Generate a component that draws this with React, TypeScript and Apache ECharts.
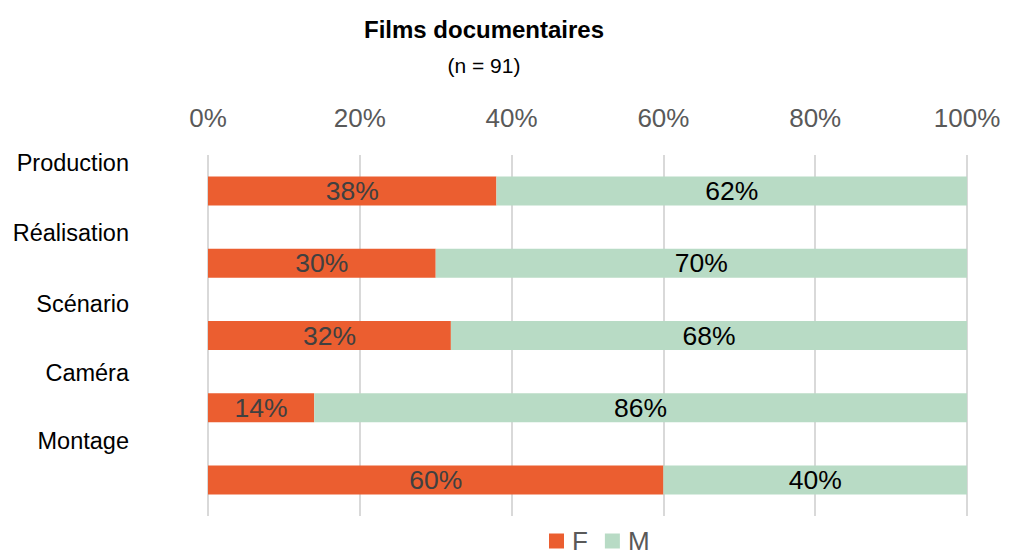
import React, { useEffect, useRef } from "react";
import * as echarts from "echarts";

const categories = ["Production", "Réalisation", "Scénario", "Caméra", "Montage"];
const valuesF = [38, 30, 32, 14, 60];
const valuesM = [62, 70, 68, 86, 40];
const xTicks = [0, 20, 40, 60, 80, 100];

const FONT = "'Liberation Sans', Arial, sans-serif";
// vertical gap under each category label (label sits above its bar)
const labelGaps = [56, 60, 64, 70, 78];

export default function App() {
  const ref = useRef<HTMLDivElement>(null);
  useEffect(() => {
    document.body.style.margin = "0";
    const chart = echarts.init(ref.current!, null, { renderer: "svg" });
    const rich: Record<string, any> = {
      t: { fontSize: 23.5, lineHeight: 28, color: "#000", fontFamily: FONT, align: "right" },
    };
    labelGaps.forEach((g, i) => {
      rich["p" + i] = { fontSize: 10, lineHeight: g, align: "right" };
    });
    chart.setOption({
      animation: false,
      textStyle: { fontFamily: FONT },
      title: {
        text: "Films documentaires",
        subtext: "(n = 91)",
        left: 479,
        textAlign: "center",
        top: 12,
        itemGap: 14,
        textStyle: { fontSize: 24, fontWeight: "bold", color: "#000", fontFamily: FONT },
        subtextStyle: { fontSize: 21, color: "#000", fontFamily: FONT },
      },
      legend: {
        data: ["F", "M"],
        left: 544,
        top: 523,
        itemWidth: 15,
        itemHeight: 15,
        itemGap: 17,
        icon: "rect",
        textStyle: { fontSize: 26, color: "#595959", fontFamily: FONT, padding: [0, 0, 0, 3] },
      },
      grid: { left: 208, right: 42, top: 155, bottom: 36, containLabel: false },
      xAxis: {
        type: "value",
        position: "top",
        min: xTicks[0],
        max: xTicks[xTicks.length - 1],
        interval: 20,
        axisLine: { show: false },
        axisTick: { show: false },
        axisLabel: {
          formatter: "{value}%",
          fontSize: 26,
          color: "#595959",
          margin: 24,
          fontFamily: FONT,
        },
        splitLine: { show: true, lineStyle: { color: "#D9D9D9", width: 2 } },
      },
      yAxis: {
        type: "category",
        inverse: true,
        data: categories,
        axisLine: { show: false },
        axisTick: { show: false },
        axisLabel: {
          interval: 0,
          showMinLabel: true,
          showMaxLabel: true,
          hideOverlap: false,
          color: "#000",
          margin: 79,
          align: "right",
          verticalAlign: "middle",
          formatter: (v: string, i: number) => `{t|${v}}\n{p${i}| }`,
          rich,
          fontFamily: FONT,
        },
      },
      series: [
        {
          name: "F",
          type: "bar",
          stack: "total",
          data: valuesF,
          barWidth: 29,
          itemStyle: { color: "#EB5E30" },
          label: {
            show: true,
            position: "inside",
            formatter: "{c}%",
            fontSize: 26.5,
            color: "#404040",
            fontFamily: FONT,
          },
        },
        {
          name: "M",
          type: "bar",
          stack: "total",
          data: valuesM,
          barWidth: 29,
          itemStyle: { color: "#B8DBC5" },
          label: {
            show: true,
            position: "inside",
            formatter: "{c}%",
            fontSize: 26.5,
            color: "#000",
            fontFamily: FONT,
          },
        },
      ],
    });
    return () => chart.dispose();
  }, []);
  return <div ref={ref} style={{ width: 1009, height: 552 }} />;
}
